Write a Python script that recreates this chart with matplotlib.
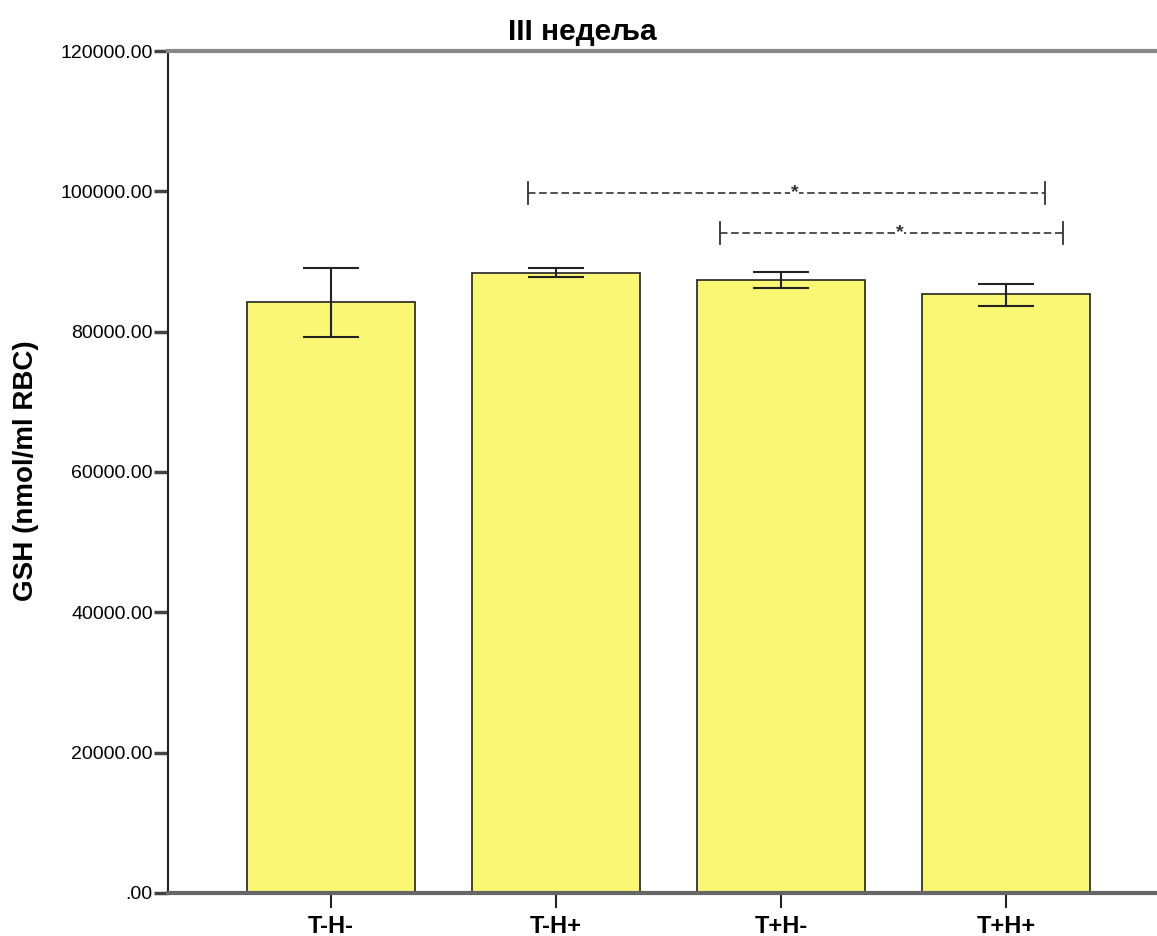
import matplotlib
matplotlib.use("Agg")
import matplotlib.pyplot as plt
from matplotlib.ticker import FuncFormatter

plt.rcParams['font.family'] = ['Liberation Sans', 'DejaVu Sans']

# Group means and error-bar limits (GSH, nmol/ml RBC)
groups = ["T-H-", "T-H+", "T+H-", "T+H+"]
means = [84215, 88394, 87352, 85313]
upper = [89020, 89020, 88493, 86782]
lower = [79268, 87823, 86168, 83687]

# Pairwise comparisons marked as significant: (from group, to group)
sig_pairs = [("T-H+", "T+H+"), ("T+H-", "T+H+")]

title = "III недеља"
ylabel = "GSH (nmol/ml RBC)"
yticks = [0, 20000, 40000, 60000, 80000, 100000, 120000]

fig = plt.figure(figsize=(11.57, 9.36), dpi=100)
ax = fig.add_axes([0.1452, 0.046, 0.8548, 0.8995])

x = list(range(len(groups)))
yerr = [[m - lo for m, lo in zip(means, lower)],
        [up - m for m, up in zip(means, upper)]]

ax.bar(x, means, width=0.747, color="#F9F773", edgecolor="#222222",
       linewidth=1.2, zorder=2)
ax.errorbar(x, means, yerr=yerr, fmt="none", ecolor="#222222",
            elinewidth=1.5, capsize=20.5, capthick=1.5, zorder=3)

ax.set_xlim(-0.724, 3.67)
ax.set_ylim(0, 120000)
ax.set_yticks(yticks)
ax.yaxis.set_major_formatter(FuncFormatter(
    lambda v, p: ".00" if v == 0 else f"{v:.2f}"))
ax.set_xticks(x)
ax.set_xticklabels(groups, fontweight="bold", fontsize=17)

ax.tick_params(axis="y", direction="out", length=10, width=2.5,
               color="#444444", labelsize=14, pad=1)
ax.tick_params(axis="x", direction="out", length=11, width=1.5,
               color="#222222", pad=5)

ax.spines["right"].set_visible(False)
ax.spines["top"].set_color("#888888")
ax.spines["top"].set_linewidth(3)
ax.spines["bottom"].set_color("#666666")
ax.spines["bottom"].set_linewidth(3)
ax.spines["left"].set_color("#222222")
ax.spines["left"].set_linewidth(1.5)

fig.text(582 / 1157, 0.957, title, ha="center", va="baseline",
         fontweight="bold", fontsize=21.5)
fig.text(26 / 1157, 0.497, ylabel, ha="center", va="center",
         rotation=90, fontweight="bold", fontsize=20)

# Significance brackets drawn as text-style dashed lines with a star
bracket_levels = [99800, 94100]
bracket_ends = [(0.876, 3.173), (1.729, 3.253)]
for (a, b), level, (x0, x1) in zip(sig_pairs, bracket_levels, bracket_ends):
    ax.plot([x0, x1], [level, level], color="#333333", linewidth=1.2,
            dashes=(4.5, 2.2), zorder=4)
    for xe in (x0, x1):
        ax.plot([xe, xe], [level - 1600, level + 1600], color="#333333",
                linewidth=1.3, zorder=4)
    xm = (x0 + x1) / 2 + 0.035
    ax.text(xm, level, "*", ha="center", va="center", fontsize=14,
            fontweight="bold", color="#333333", zorder=5,
            bbox=dict(facecolor="white", edgecolor="none", pad=0.5))

fig.savefig("out.png", dpi=100)
